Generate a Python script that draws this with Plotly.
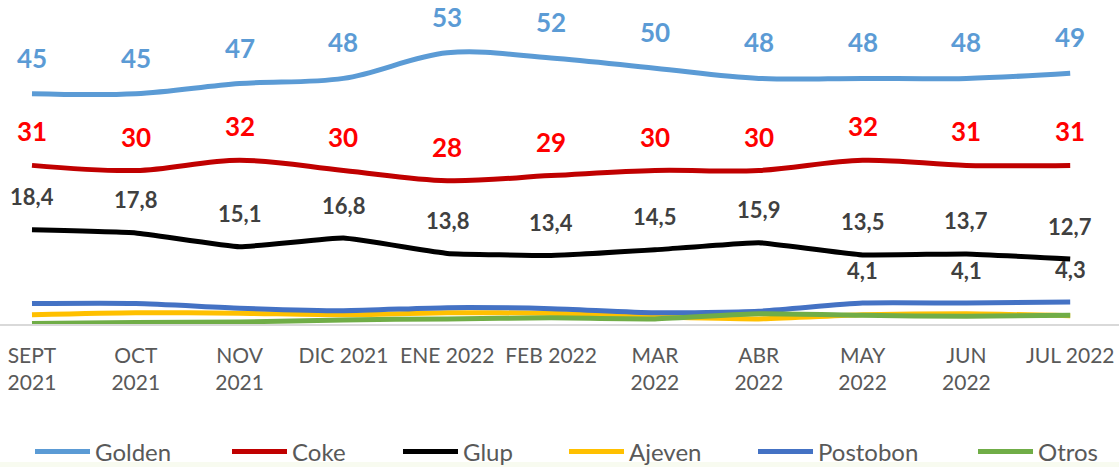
import plotly.graph_objects as go

months = ["SEPT<br>2021", "OCT<br>2021", "NOV<br>2021", "DIC 2021", "ENE 2022", "FEB 2022",
          "MAR<br>2022", "ABR<br>2022", "MAY<br>2022", "JUN<br>2022", "JUL 2022"]

golden = [45, 45, 47, 48, 53, 52, 50, 48, 48, 48, 49]
coke = [31, 30, 32, 30, 28, 29, 30, 30, 32, 31, 31]
glup = [18.4, 17.8, 15.1, 16.8, 13.8, 13.4, 14.5, 15.9, 13.5, 13.7, 12.7]
ajeven = [1.8, 2.2, 2.1, 1.8, 2.2, 2.1, 1.4, 1.0, 1.8, 2.0, 1.6]
postobon = [4.0, 4.0, 3.1, 2.6, 3.2, 3.0, 2.2, 2.5, 4.1, 4.1, 4.3]
otros = [0.1, 0.3, 0.4, 0.8, 1.0, 1.2, 1.0, 2.0, 1.7, 1.5, 1.7]

postobon_labeled = [8, 9, 10]

x = list(range(len(months)))

FONT = "Lato, 'Open Sans', sans-serif"
W, H = 1119, 467
MT, MB = 17, 143

series = [
    ("Golden", golden, "#5B9BD5", 1.0),
    ("Coke", coke, "#C00000", 1.0),
    ("Glup", glup, "#000000", 0.3),
    ("Ajeven", ajeven, "#FFC000", 0.6),
    ("Postobon", postobon, "#4472C4", 0.6),
    ("Otros", otros, "#70AD47", 0.6),
]
legend_left_px = [30, 227, 398, 564, 753, 973]

fig = go.Figure()
legend_layouts = {}
plot_h = H - MT - MB
for k, (name, vals, color, sm) in enumerate(series):
    lg = "legend" if k == 0 else f"legend{k+1}"
    fig.add_trace(go.Scatter(
        x=x, y=vals, name=name, mode="lines",
        line=dict(color=color, width=5, shape="spline", smoothing=sm),
        hoverinfo="skip", legend=lg,
    ))
    legend_layouts[lg] = dict(
        orientation="h", x=legend_left_px[k] / W, xanchor="left",
        y=(324 - 452) / plot_h, yanchor="middle",
        font=dict(family=FONT, size=24, color="#595959"),
        itemwidth=55, bgcolor="rgba(0,0,0,0)", borderwidth=0,
    )

def fmt(v):
    s = f"{v:g}" if float(v).is_integer() else f"{v:.1f}"
    return s.replace(".", ",")

annotations = []
label_specs = [
    (golden, list(range(len(golden))), "#5B9BD5", 26, 36),
    (coke, list(range(len(coke))), "#FF0000", 26, 34),
    (glup, list(range(len(glup))), "#404040", 22, 33),
    (postobon, postobon_labeled, "#404040", 22, 33),
]
for vals, idxs, color, size, shift in label_specs:
    for i in idxs:
        annotations.append(dict(
            x=x[i], y=vals[i], text="<b>" + fmt(vals[i]) + "</b>",
            showarrow=False, yshift=shift, xanchor="center", yanchor="middle",
            font=dict(family=FONT, size=size, color=color),
        ))

fig.update_layout(
    width=W, height=H,
    margin=dict(l=0, r=0, t=MT, b=MB, autoexpand=False),
    paper_bgcolor="white", plot_bgcolor="white",
    font=dict(family=FONT, color="#595959"),
    showlegend=True,
    xaxis=dict(
        range=[-0.308, 10.47], tickmode="array", tickvals=x, ticktext=months,
        showgrid=False, zeroline=False, showline=True, linecolor="#D9D9D9", linewidth=1.5,
        ticks="", ticklabelstandoff=12, automargin=False,
        tickfont=dict(family=FONT, size=21, color="#595959"),
        fixedrange=True,
    ),
    yaxis=dict(range=[0, 60], visible=False, showgrid=False, zeroline=False, fixedrange=True),
    annotations=annotations,
    shapes=[dict(
        type="rect", xref="paper", yref="paper", x0=0, x1=1,
        y0=(324 - 467) / plot_h, y1=(324 - 462) / plot_h,
        fillcolor="#F8FBF0", line=dict(width=0), layer="below",
    )],
    **legend_layouts,
)

fig.write_html(
    "out.html",
    config={"displayModeBar": False},
    post_script="document.body.style.margin='0';document.body.style.overflow='hidden';",
)
